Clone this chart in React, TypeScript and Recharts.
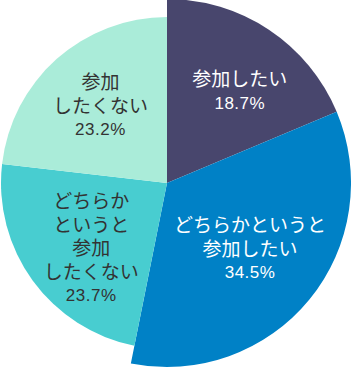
import { PieChart, Pie, Cell } from 'recharts'

const CATEGORIES = ['参加したい', 'どちらかというと参加したい', 'どちらかというと参加したくない', '参加したくない']
const VALUES = [18.7, 34.5, 23.7, 23.2]
const LABEL_LINES = [
  ['参加したい'],
  ['どちらかというと', '参加したい'],
  ['どちらか', 'というと', '参加', 'したくない'],
  ['参加', 'したくない'],
]

const COLORS = ['#48466d', '#0081c6', '#48cdd0', '#aaecd9']
const TEXT_COLORS = ['#ffffff', '#ffffff', '#333333', '#333333']
// slices 0-1 are drawn on the big ring, 2-3 on the smaller one
const BIG = [true, true, false, false]
const LABEL_RADIUS = [117, 106, 100, 103]
const LABEL_SHIFT = [
  [8, 5],
  [1, -2],
  [5, 6],
  [2, -1],
]

const data = CATEGORIES.map((name, i) => ({ name, value: VALUES[i] }))

const RAD = Math.PI / 180
const JP_STEP = 23.5
const PCT_GAP = 25.5

function renderLabel(props: any) {
  const { cx, cy, midAngle, index } = props
  const r = LABEL_RADIUS[index]
  const x = cx + r * Math.cos(-midAngle * RAD) + LABEL_SHIFT[index][0]
  const y = cy + r * Math.sin(-midAngle * RAD) + LABEL_SHIFT[index][1]
  const lines = LABEL_LINES[index]
  const height = (lines.length - 1) * JP_STEP + PCT_GAP
  const top = y - height / 2
  const color = TEXT_COLORS[index]

  return (
    <g>
      {lines.map((line, i) => (
        <text
          key={i}
          x={x}
          y={top + i * JP_STEP}
          textAnchor="middle"
          dominantBaseline="central"
          fill={color}
          fontSize={19}
          fontFamily="'Noto Sans CJK JP', sans-serif"
        >
          {line}
        </text>
      ))}
      <text
        x={x}
        y={top + (lines.length - 1) * JP_STEP + PCT_GAP}
        textAnchor="middle"
        dominantBaseline="central"
        fill={color}
        fontSize={17}
        letterSpacing={0.5}
        fontFamily="'Liberation Sans', Arial, sans-serif"
      >
        {VALUES[index].toFixed(1)}%
      </text>
    </g>
  )
}

export default function App() {
  return (
    <div style={{ position: 'fixed', left: 0, top: 0, width: 351, height: 369, background: '#fff' }}>
      <PieChart width={351} height={369} margin={{ top: 0, right: 0, bottom: 0, left: 0 }}>
        <Pie
          data={data}
          dataKey="value"
          cx={167}
          cy={183}
          outerRadius={184}
          startAngle={90}
          endAngle={-270}
          stroke="none"
          labelLine={false}
          isAnimationActive={false}
        >
          {data.map((entry, i) => (
            <Cell key={`big-${i}`} fill={BIG[i] ? COLORS[i] : 'none'} />
          ))}
        </Pie>
        <Pie
          data={data}
          dataKey="value"
          cx={167}
          cy={183}
          outerRadius={166}
          startAngle={90}
          endAngle={-270}
          stroke="none"
          labelLine={false}
          label={renderLabel}
          isAnimationActive={false}
        >
          {data.map((entry, i) => (
            <Cell key={`small-${i}`} fill={BIG[i] ? 'none' : COLORS[i]} />
          ))}
        </Pie>
      </PieChart>
    </div>
  )
}
